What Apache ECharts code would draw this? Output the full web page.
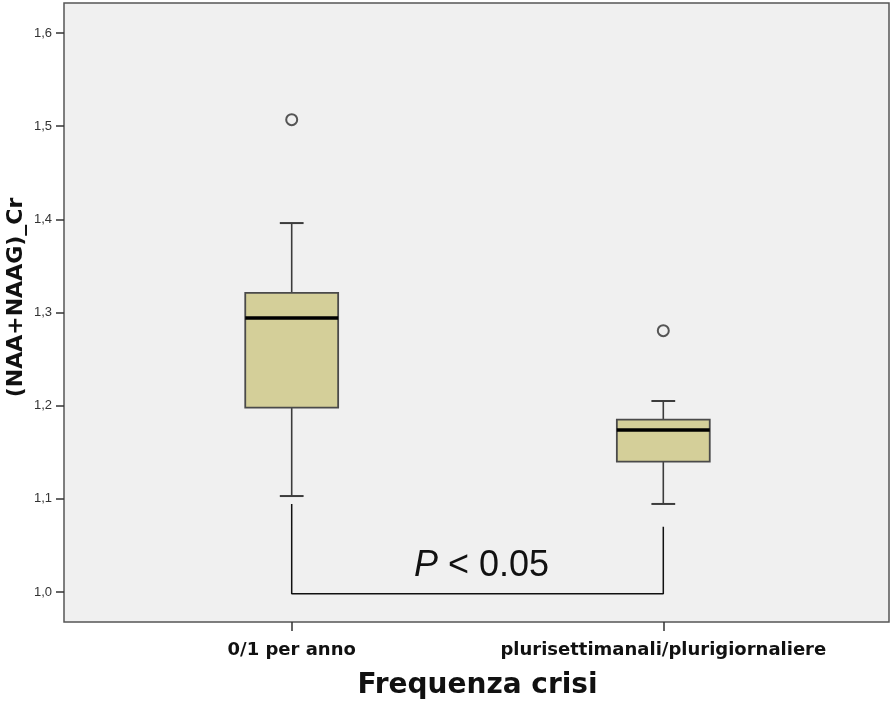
<!DOCTYPE html>
<html>
<head>
<meta charset="utf-8">
<script src="https://cdn.jsdelivr.net/npm/echarts@6/dist/echarts.min.js"></script>
<style>
  html, body { margin: 0; padding: 0; background: #ffffff; }
  #chart { width: 891px; height: 711px; }
</style>
</head>
<body>
<div id="chart"></div>
<script>
// Group labels
const categories = ['0/1 per anno', 'plurisettimanali/plurigiornaliere'];

// Box-plot statistics per group
const whiskerLow  = [1.103, 1.0945];
const q1          = [1.198, 1.140];
const median      = [1.294, 1.174];
const q3          = [1.321, 1.185];
const whiskerHigh = [1.396, 1.205];

// Outliers: [group index, value]
const outliers = [[0, 1.507], [1, 1.2805]];

// Significance bracket between the groups
const bracket = [[0, 1.0945], [0, 0.998], [1, 0.998], [1, 1.070]];
const pLabelY = 1.028;

// Y axis range
const yMin = 1.0, yMax = 1.6, yStep = 0.1;

const boxData = categories.map((c, i) => [i, whiskerLow[i], q1[i], median[i], q3[i], whiskerHigh[i]]);

const BOX_FILL = '#d4cf99';
const LINE = '#3c3c3c';

function renderBox(params, api) {
  const x = api.value(0);
  const band = api.size([1, 0])[0];
  const half = band * 0.125;
  const capHalf = band * 0.032;
  const pLow = api.coord([x, api.value(1)]);
  const pQ1 = api.coord([x, api.value(2)]);
  const pMed = api.coord([x, api.value(3)]);
  const pQ3 = api.coord([x, api.value(4)]);
  const pHigh = api.coord([x, api.value(5)]);
  const cx = pQ1[0];
  const lineStyle = { stroke: LINE, lineWidth: 1.6 };
  return {
    type: 'group',
    children: [
      { type: 'line', shape: { x1: cx, y1: pHigh[1], x2: cx, y2: pQ3[1] }, style: lineStyle },
      { type: 'line', shape: { x1: cx, y1: pQ1[1], x2: cx, y2: pLow[1] }, style: lineStyle },
      { type: 'line', shape: { x1: cx - capHalf, y1: pHigh[1], x2: cx + capHalf, y2: pHigh[1] }, style: { stroke: LINE, lineWidth: 2 } },
      { type: 'line', shape: { x1: cx - capHalf, y1: pLow[1], x2: cx + capHalf, y2: pLow[1] }, style: { stroke: LINE, lineWidth: 2 } },
      { type: 'rect', shape: { x: cx - half, y: pQ3[1], width: half * 2, height: pQ1[1] - pQ3[1] },
        style: { fill: BOX_FILL, stroke: '#4a4a4a', lineWidth: 1.8 } },
      { type: 'line', shape: { x1: cx - half, y1: pMed[1], x2: cx + half, y2: pMed[1] }, style: { stroke: '#000', lineWidth: 3.5 } }
    ]
  };
}

function renderPLabel(params, api) {
  const y = api.value(1);
  const a = api.coord([0, y]);
  const b = api.coord([1, y]);
  return {
    type: 'text',
    style: {
      text: '{i|P}{n| < 0.05}',
      x: (a[0] + b[0]) / 2 + 4,
      y: a[1],
      align: 'center',
      verticalAlign: 'middle',
      rich: {
        i: { fontFamily: 'Liberation Sans', fontStyle: 'italic', fontSize: 36, fill: '#111' },
        n: { fontFamily: 'Liberation Sans', fontSize: 36, fill: '#111' }
      }
    }
  };
}

const chart = echarts.init(document.getElementById('chart'), null, { renderer: 'canvas' });
chart.setOption({
  animation: false,
  backgroundColor: '#ffffff',
  grid: [
    // framed plot area
    { left: 64, right: 2, top: 3, bottom: 89, show: true, backgroundColor: '#f0f0f0',
      borderColor: '#555555', borderWidth: 1.5, containLabel: false, outerBoundsMode: 'none' },
    // data area aligned to the 1,0 – 1,6 range
    { left: 105.9, right: 41.9, top: 33, bottom: 119, containLabel: false, outerBoundsMode: 'none' }
  ],
  xAxis: [
    { gridIndex: 0, type: 'value', show: false, min: 0, max: 1 },
    {
      gridIndex: 1, type: 'category', data: categories, boundaryGap: true, offset: 30,
      axisLine: { show: false },
      axisTick: { show: true, alignWithLabel: true, length: 9, lineStyle: { color: '#333', width: 1.5 } },
      axisLabel: { interval: 0, hideOverlap: false, margin: 19, fontFamily: 'DejaVu Sans', fontWeight: 'bold', fontSize: 18, color: '#111' },
      name: 'Frequenza crisi', nameLocation: 'middle', nameGap: 50, nameMoveOverlap: false,
      nameTextStyle: { fontFamily: 'DejaVu Sans', fontWeight: 'bold', fontSize: 28, color: '#111' }
    }
  ],
  yAxis: [
    { gridIndex: 0, type: 'value', show: false, min: 0, max: 1 },
    {
      gridIndex: 1, type: 'value', min: yMin, max: yMax, interval: yStep, offset: 41.9,
      splitLine: { show: false },
      axisLine: { show: false },
      axisTick: { show: true, length: 8, lineStyle: { color: '#333', width: 1.5 } },
      axisLabel: { margin: 12, fontFamily: 'Liberation Sans', fontSize: 13, color: '#333',
        formatter: v => v.toFixed(1).replace('.', ',') },
      name: '(NAA+NAAG)_Cr', nameLocation: 'middle', nameGap: 37, nameMoveOverlap: false,
      nameTextStyle: { fontFamily: 'DejaVu Sans', fontWeight: 'bold', fontSize: 22, color: '#111',
        padding: [0, 0, 0, 30] }
    }
  ],
  series: [
    {
      type: 'custom', xAxisIndex: 1, yAxisIndex: 1,
      data: boxData, encode: { x: 0, y: [1, 2, 3, 4, 5] },
      renderItem: renderBox, clip: false, z: 3
    },
    {
      type: 'scatter', xAxisIndex: 1, yAxisIndex: 1, data: outliers,
      symbol: 'circle', symbolSize: 11,
      itemStyle: { color: '#f0f0f0', borderColor: '#555555', borderWidth: 2, opacity: 1 }, z: 4
    },
    {
      type: 'line', xAxisIndex: 1, yAxisIndex: 1, data: bracket, clip: false,
      symbol: 'none', lineStyle: { color: '#111', width: 1.5 }, z: 2
    },
    {
      type: 'custom', xAxisIndex: 1, yAxisIndex: 1, data: [[0, pLabelY]],
      renderItem: renderPLabel, clip: false, z: 5
    }
  ]
});
</script>
</body>
</html>
